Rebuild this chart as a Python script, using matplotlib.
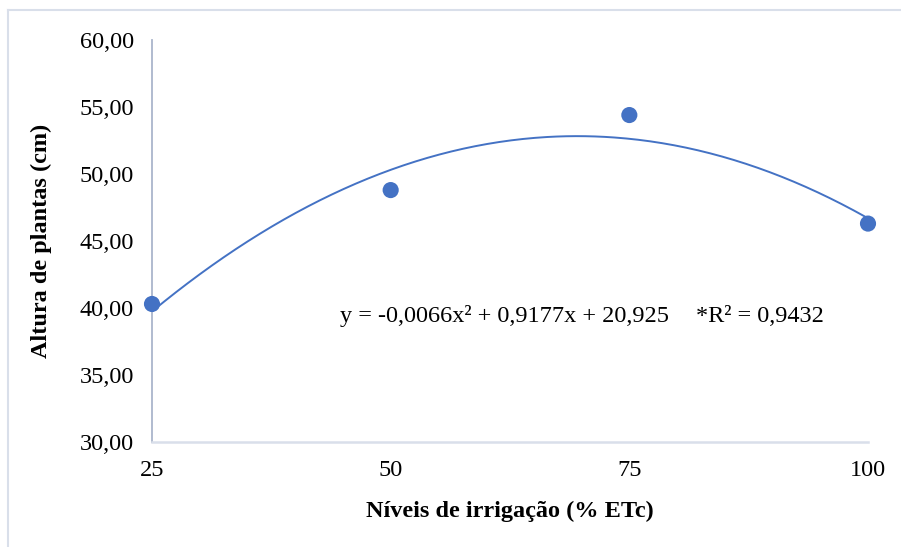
import matplotlib
matplotlib.use("Agg")
import matplotlib.pyplot as plt
import numpy as np
from matplotlib.lines import Line2D
from matplotlib.ticker import FuncFormatter

plt.rcParams['font.family'] = ['Liberation Serif', 'DejaVu Serif']

irrigation = [25, 50, 75, 100]
height_cm = [40.3, 48.8, 54.4, 46.3]
coef = [-0.0066, 0.9177, 20.925]  # quadratic trendline coefficients
x_ticks = [25, 50, 75, 100]
y_ticks = [30, 35, 40, 45, 50, 55, 60]

W, H = 901, 547
fig = plt.figure(figsize=(W / 100, H / 100), dpi=100)
ax = fig.add_axes([152 / W, 1 - 442 / H, (868 - 152) / W, (442 - 40) / H])

blue = '#4472C4'
xs = np.linspace(25, 100, 300)
ax.plot(xs, np.polyval(coef, xs), color=blue, lw=1.4, zorder=2)
ax.scatter(irrigation, height_cm, s=135, color=blue, zorder=3, edgecolors='none', clip_on=False)

ax.set_xlim(25, 100)
ax.set_ylim(30, 60)
ax.set_xticks(x_ticks)
ax.set_yticks(y_ticks)
ax.yaxis.set_major_formatter(FuncFormatter(lambda v, p: f"{v:.2f}".replace('.', ',')))
ax.tick_params(length=0, labelsize=17.5, colors='black')
ax.tick_params(axis='x', pad=13)
ax.tick_params(axis='y', pad=13)
for s in ['top', 'right']:
    ax.spines[s].set_visible(False)
ax.spines['left'].set_color('#AAB5CB')
ax.spines['bottom'].set_color('#D9DFEA')
ax.spines['left'].set_linewidth(1.3)
ax.spines['bottom'].set_linewidth(1.8)

ax.set_xlabel('Níveis de irrigação (% ETc)', fontsize=17.5, fontweight='bold', labelpad=14)
ax.set_ylabel('Altura de plantas (cm)', fontsize=17.5, fontweight='bold', labelpad=20)

ax.text(44.7, 39.4, 'y = -0,0066x² + 0,9177x + 20,925', fontsize=17.5, va='center', ha='left')
ax.text(82.0, 39.4, '*R² = 0,9432', fontsize=17.5, va='center', ha='left')

# outer chart border
fig.add_artist(Line2D([8 / W, 1], [1 - 10 / H, 1 - 10 / H], transform=fig.transFigure, color='#D9DFEA', lw=1.5))
fig.add_artist(Line2D([8 / W, 8 / W], [0, 1 - 10 / H], transform=fig.transFigure, color='#D9DFEA', lw=1.5))

fig.savefig('out.png', dpi=100)
